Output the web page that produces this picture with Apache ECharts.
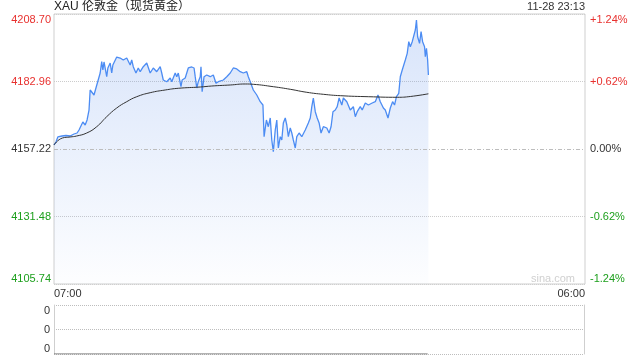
<!DOCTYPE html>
<html><head><meta charset="utf-8">
<script src="https://cdn.jsdelivr.net/npm/echarts@6/dist/echarts.min.js"></script>
<style>html,body{margin:0;padding:0;background:#fff}#c{width:640px;height:360px}</style>
</head><body><div id="c"></div>
<script>
const titleText = 'XAU 伦敦金（现货黄金）';
const stampText = '11-28 23:13';
const watermark = 'sina.com';
const timeLabels = ['07:00', '06:00'];
const sessionMinutes = 1380;
const basePrice = 4157.22;
const priceMin = 4105.74, priceMax = 4208.70, priceStep = 25.74;
const pctMin = -1.24, pctMax = 1.24, pctStep = 0.62;
const volLabels = ['0', '0', '0'];

const minutes = [0,5,10,21,31,42,52,60,65,70,75,81,86,91,94,99,104,109,114,120,124,127,130,137,140,146,150,153,163,172,180,189,198,202,206,213,219,224,232,241,245,250,258,267,276,280,284,293,302,306,315,319,323,330,333,341,349,358,364,367,371,375,380,382,385,390,397,406,414,421,427,440,449,458,466,475,484,492,501,505,510,518,527,536,543,546,552,557,562,566,570,575,579,583,588,592,596,601,605,609,614,618,622,627,631,637,644,653,661,666,670,674,679,684,689,694,700,709,715,720,725,731,736,741,748,752,761,770,778,783,788,796,801,809,817,827,835,842,848,856,861,868,874,880,885,890,896,900,905,909,913,918,922,926,931,935,939,942,945,950,954,958,963,965,968,971,973];
const prices = [4158.75,4159.89,4161.80,4162.18,4162.37,4162.18,4162.94,4163.32,4164.47,4165.23,4167.52,4166.37,4168.28,4172.09,4179.72,4180.48,4177.81,4180.48,4180.86,4186.20,4190.51,4187.35,4190.40,4184.79,4188.11,4190.01,4186.20,4189.25,4192.30,4191.92,4191.16,4191.92,4189.25,4191.16,4188.60,4186.20,4188.11,4186.70,4188.60,4190.01,4190.51,4186.20,4188.11,4186.70,4188.60,4186.20,4183.53,4182.88,4184.29,4182.88,4186.20,4184.79,4186.20,4180.98,4183.53,4184.29,4188.11,4188.49,4188.11,4184.79,4180.48,4182.88,4184.79,4188.60,4179.07,4184.79,4185.44,4184.79,4185.44,4182.27,4182.88,4183.53,4184.79,4186.20,4188.11,4187.73,4186.70,4186.20,4186.70,4184.79,4182.88,4179.72,4177.81,4175.26,4174.00,4161.91,4168.28,4165.72,4169.04,4160.65,4156.19,4164.47,4168.28,4157.60,4161.91,4160.65,4167.14,4169.04,4166.37,4161.91,4165.23,4163.32,4160.65,4157.60,4161.91,4163.32,4161.91,4164.47,4167.14,4169.04,4173.35,4176.67,4171.44,4169.04,4167.14,4163.32,4165.72,4165.23,4163.32,4165.72,4171.44,4172.09,4173.35,4176.67,4174.00,4176.67,4175.26,4172.09,4173.35,4169.54,4171.44,4173.35,4172.09,4174.76,4174.00,4174.76,4175.26,4177.81,4175.26,4172.86,4172.09,4169.04,4172.86,4175.26,4174.00,4177.16,4178.46,4184.79,4187.35,4186.70,4191.16,4193.71,4198.14,4196.23,4198.14,4197.53,4202.60,4206.41,4200.04,4197.53,4201.95,4198.14,4196.23,4192.42,4195.62,4191.16,4185.44];

const avgMinutes = [0,22,42,59,85,111,137,163,189,215,250,289,323,380,410,458,497,518,570,614,657,700,744,818,892,926,973];
const avgPrices = [4158.75,4161.42,4161.80,4162.18,4163.32,4165.72,4169.54,4172.86,4175.26,4177.16,4178.69,4179.72,4180.37,4180.86,4181.24,4181.63,4182.01,4181.89,4180.98,4179.99,4178.84,4178.08,4177.55,4177.16,4176.94,4177.24,4178.27];

const volMinutes = [0, 973];
const volumes = [0, 0];

const FONT = 'Arial, "Liberation Sans", sans-serif';
const RED = '#e8312f', GREEN = '#1c9f1c', DARK = '#333333';
const priceColor = v => (v > basePrice + 1e-6 ? RED : (v < basePrice - 1e-6 ? GREEN : DARK));
const pctColor = v => (v > 1e-6 ? RED : (v < -1e-6 ? GREEN : DARK));

const chart = echarts.init(document.getElementById('c'), null, { renderer: 'canvas' });
chart.setOption({
  animation: false,
  backgroundColor: '#fff',
  textStyle: { fontFamily: FONT },
  graphic: [
    { type: 'text', left: 54, top: 1, style: { text: titleText, font: '12px "Liberation Sans", "Noto Sans CJK SC", sans-serif', fill: '#222' } },
    { type: 'text', right: 55, top: 1, style: { text: stampText, font: '11px ' + FONT, fill: '#333' } },
    { type: 'text', left: 531, top: 273, style: { text: watermark, font: '11px ' + FONT, fill: '#d0d0d0' } }
  ],
  grid: [
    { left: 54, right: 55, top: 14, height: 270, show: true, borderColor: '#cfcfcf', borderWidth: 1, backgroundColor: 'transparent' },
    { left: 54, right: 56, top: 305, height: 49, show: false }
  ],
  xAxis: [
    {
      gridIndex: 0, type: 'value', min: 0, max: sessionMinutes, interval: sessionMinutes,
      axisLine: { show: false }, axisTick: { show: false }, splitLine: { show: false },
      axisLabel: {
        color: '#333', fontSize: 11, margin: 4, fontFamily: FONT,
        alignMinLabel: 'left', alignMaxLabel: 'right',
        formatter: (v, i) => timeLabels[i] || ''
      }
    },
    {
      gridIndex: 1, type: 'value', min: 0, max: sessionMinutes, show: false
    }
  ],
  yAxis: [
    {
      gridIndex: 0, type: 'value', position: 'left', min: priceMin, max: priceMax, interval: priceStep,
      axisLine: { show: false }, axisTick: { show: false },
      axisLabel: {
        fontSize: 11, margin: 3, fontFamily: FONT,
        verticalAlignMinLabel: 'bottom', verticalAlignMaxLabel: 'top',
        formatter: v => v.toFixed(2),
        color: v => priceColor(v)
      },
      splitLine: { show: true, lineStyle: { type: 'dotted', color: ['#cfcfcf', '#cccccc', 'rgba(0,0,0,0)', '#cccccc', '#cfcfcf'] } }
    },
    {
      gridIndex: 0, type: 'value', position: 'right', min: pctMin, max: pctMax, interval: pctStep,
      axisLine: { show: false }, axisTick: { show: false }, splitLine: { show: false },
      axisLabel: {
        fontSize: 11, margin: 5, fontFamily: FONT,
        verticalAlignMinLabel: 'bottom', verticalAlignMaxLabel: 'top',
        formatter: v => (v > 1e-6 ? '+' : '') + (Math.abs(v) < 1e-6 ? 0 : v).toFixed(2) + '%',
        color: v => pctColor(v)
      }
    },
    {
      gridIndex: 1, type: 'value', position: 'left', min: 0, max: 2, interval: 1,
      axisLine: { show: true, lineStyle: { color: '#cfcfcf' } }, axisTick: { show: false },
      axisLabel: {
        fontSize: 11, margin: 4, fontFamily: FONT, color: '#333',
        verticalAlignMinLabel: 'bottom', verticalAlignMaxLabel: 'top',
        formatter: (v, i) => volLabels[i]
      },
      splitLine: { show: true, lineStyle: { type: 'dotted', color: '#bdbdbd' } }
    },
    {
      gridIndex: 1, type: 'value', position: 'right', min: 0, max: 2, interval: 1,
      axisLine: { show: true, lineStyle: { color: '#cfcfcf' } }, axisTick: { show: false },
      axisLabel: { show: false }, splitLine: { show: false }
    }
  ],
  series: [
    {
      type: 'line', xAxisIndex: 0, yAxisIndex: 0, showSymbol: false, symbol: 'none',
      data: minutes.map((m, i) => [m, prices[i]]),
      lineStyle: { color: '#4c8cf3', width: 1.3 },
      areaStyle: {
        origin: 'start',
        color: new echarts.graphic.LinearGradient(0, 0, 0, 1, [
          { offset: 0, color: 'rgba(100,148,236,0.36)' },
          { offset: 1, color: 'rgba(100,148,236,0.02)' }
        ])
      },
      markLine: {
        silent: true, symbol: 'none', label: { show: false },
        lineStyle: { type: [4, 2, 1, 2], color: '#bdbdbd', width: 1 },
        data: [{ yAxis: basePrice }]
      },
      z: 3
    },
    {
      type: 'line', xAxisIndex: 0, yAxisIndex: 0, showSymbol: false, symbol: 'none', smooth: true,
      data: avgMinutes.map((m, i) => [m, avgPrices[i]]),
      lineStyle: { color: '#333', width: 1 },
      z: 4
    },
    {
      type: 'line', xAxisIndex: 1, yAxisIndex: 2, showSymbol: false, symbol: 'none',
      data: volMinutes.map((m, i) => [m, volumes[i]]),
      lineStyle: { color: '#666', width: 1 }
    }
  ]
});
</script>
</body></html>
